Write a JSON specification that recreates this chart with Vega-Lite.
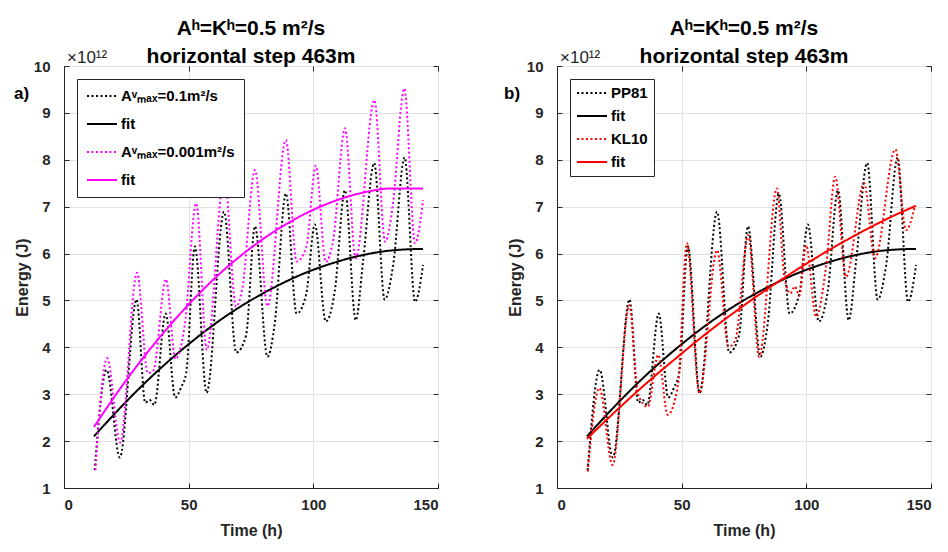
{
  "$schema": "https://vega.github.io/schema/vega-lite/v6.json",
  "padding": {"left": 13, "top": 17, "right": 5, "bottom": 5},
  "spacing": 64,
  "datasets": {
    "series": [
      {"s":"k","t":12.3,"E":1.38},{"s":"k","t":17.1,"E":3.52},{"s":"k","t":22.4,"E":1.65},{"s":"k","t":29.1,"E":5.02},{"s":"k","t":32.6,"E":2.82},{"s":"k","t":34.3,"E":2.88},{"s":"k","t":36.2,"E":2.77},{"s":"k","t":40.8,"E":4.72},{"s":"k","t":44.6,"E":2.93},{"s":"k","t":47,"E":3.15},{"s":"k","t":49,"E":3.45},{"s":"k","t":52.5,"E":6.15},{"s":"k","t":57.2,"E":3.03},{"s":"k","t":64.2,"E":6.89},{"s":"k","t":69.1,"E":3.89},{"s":"k","t":73,"E":4.25},{"s":"k","t":76.6,"E":6.58},{"s":"k","t":81.6,"E":3.8},{"s":"k","t":84.5,"E":4.5},{"s":"k","t":89,"E":7.28},{"s":"k","t":93.3,"E":4.72},{"s":"k","t":97.2,"E":5.15},{"s":"k","t":100.6,"E":6.62},{"s":"k","t":105,"E":4.55},{"s":"k","t":108.6,"E":5.2},{"s":"k","t":112.7,"E":7.35},{"s":"k","t":117,"E":4.58},{"s":"k","t":120,"E":5.86},{"s":"k","t":124.4,"E":7.93},{"s":"k","t":128.6,"E":5.02},{"s":"k","t":132,"E":5.75},{"s":"k","t":136.6,"E":8.05},{"s":"k","t":140.8,"E":4.97},{"s":"k","t":144,"E":5.76},
      {"s":"kf","t":12,"E":2.1},{"s":"kf","t":24,"E":2.79},{"s":"kf","t":36,"E":3.42},{"s":"kf","t":48,"E":3.98},{"s":"kf","t":60,"E":4.48},{"s":"kf","t":72,"E":4.91},{"s":"kf","t":84,"E":5.27},{"s":"kf","t":96,"E":5.57},{"s":"kf","t":108,"E":5.8},{"s":"kf","t":120,"E":5.97},{"s":"kf","t":132,"E":6.07},{"s":"kf","t":144,"E":6.1},
      {"s":"m","t":12.6,"E":1.38},{"s":"m","t":17.3,"E":3.77},{"s":"m","t":22.5,"E":1.97},{"s":"m","t":29.3,"E":5.59},{"s":"m","t":33.6,"E":3.45},{"s":"m","t":35.8,"E":3.5},{"s":"m","t":40.9,"E":5.45},{"s":"m","t":44.7,"E":3.75},{"s":"m","t":48.5,"E":4.5},{"s":"m","t":53,"E":7.07},{"s":"m","t":57.3,"E":3.95},{"s":"m","t":64.3,"E":7.65},{"s":"m","t":69,"E":4.87},{"s":"m","t":71.5,"E":5.25},{"s":"m","t":76.6,"E":7.78},{"s":"m","t":81.6,"E":4.88},{"s":"m","t":89,"E":8.42},{"s":"m","t":93.3,"E":5.83},{"s":"m","t":97.2,"E":6.15},{"s":"m","t":101,"E":7.87},{"s":"m","t":105,"E":5.82},{"s":"m","t":108,"E":6.3},{"s":"m","t":112.7,"E":8.67},{"s":"m","t":117,"E":5.9},{"s":"m","t":124.5,"E":9.27},{"s":"m","t":128.8,"E":6.25},{"s":"m","t":131.8,"E":7.0},{"s":"m","t":136.5,"E":9.52},{"s":"m","t":140.8,"E":6.22},{"s":"m","t":144,"E":7.14},
      {"s":"mf","t":12,"E":2.3},{"s":"mf","t":24,"E":3.23},{"s":"mf","t":36,"E":4.06},{"s":"mf","t":48,"E":4.8},{"s":"mf","t":60,"E":5.45},{"s":"mf","t":72,"E":6.0},{"s":"mf","t":84,"E":6.46},{"s":"mf","t":96,"E":6.83},{"s":"mf","t":108,"E":7.11},{"s":"mf","t":120,"E":7.3},{"s":"mf","t":132,"E":7.39},{"s":"mf","t":144,"E":7.39},
      {"s":"r","t":12.3,"E":1.35},{"s":"r","t":17,"E":3.13},{"s":"r","t":22.3,"E":1.49},{"s":"r","t":29,"E":4.9},{"s":"r","t":32.5,"E":3.0},{"s":"r","t":36.4,"E":2.73},{"s":"r","t":40.6,"E":3.84},{"s":"r","t":44.4,"E":2.56},{"s":"r","t":48.5,"E":3.2},{"s":"r","t":52.1,"E":6.22},{"s":"r","t":57.1,"E":3.02},{"s":"r","t":64.2,"E":6.07},{"s":"r","t":68.8,"E":4.01},{"s":"r","t":71.5,"E":4.15},{"s":"r","t":76.7,"E":6.39},{"s":"r","t":81.1,"E":3.8},{"s":"r","t":88.2,"E":7.39},{"s":"r","t":91.2,"E":5.5},{"s":"r","t":93.6,"E":5.15},{"s":"r","t":95.4,"E":5.3},{"s":"r","t":97.2,"E":5.1},{"s":"r","t":99.9,"E":6.18},{"s":"r","t":103.9,"E":4.65},{"s":"r","t":107.9,"E":5.72},{"s":"r","t":111.6,"E":7.64},{"s":"r","t":115.9,"E":5.5},{"s":"r","t":123.2,"E":7.5},{"s":"r","t":127.5,"E":5.9},{"s":"r","t":135.7,"E":8.22},{"s":"r","t":140,"E":6.5},{"s":"r","t":143.5,"E":7.01},
      {"s":"rf","t":12,"E":2.05},{"s":"rf","t":24,"E":2.66},{"s":"rf","t":36,"E":3.24},{"s":"rf","t":48,"E":3.78},{"s":"rf","t":60,"E":4.3},{"s":"rf","t":72,"E":4.78},{"s":"rf","t":84,"E":5.23},{"s":"rf","t":96,"E":5.65},{"s":"rf","t":108,"E":6.04},{"s":"rf","t":120,"E":6.4},{"s":"rf","t":132,"E":6.73},{"s":"rf","t":144,"E":7.02}
    ]
  },
  "config": {
    "font": "Liberation Sans",
    "view": {"stroke": "#262626", "strokeWidth": 1},
    "axis": {
      "labelFont": "Liberation Sans", "labelFontSize": 15, "labelFontWeight": "bold", "labelColor": "#262626",
      "titleFont": "Liberation Sans", "titleFontSize": 16, "titleFontWeight": "bold", "titleColor": "#262626",
      "gridColor": "#e2e2e2", "domainColor": "#262626", "tickColor": "#262626", "tickSize": -5
    },
    "axisX": {"labelPadding": 14, "titlePadding": 10},
    "axisY": {"labelPadding": 19, "titlePadding": 3},
    "title": {"font": "Liberation Sans", "fontSize": 21, "fontWeight": "bold", "color": "#000000", "lineHeight": 28, "offset": -18},
    "legend": {
      "orient": "none", "legendX": 13, "legendY": 13, "symbolType": "stroke", "symbolSize": 900, "symbolStrokeWidth": 2,
      "labelFont": "Liberation Sans", "labelFontSize": 15, "labelFontWeight": "bold", "labelColor": "#000000", "labelOffset": 3,
      "strokeColor": "#262626", "fillColor": "#ffffff", "padding": 6, "cornerRadius": 0, "clipHeight": 16
    }
  },
  "hconcat": [
    {
      "width": 374, "height": 422,
      "title": {"text": ["Aʰ=Kʰ=0.5 m²/s", "horizontal step 463m"]},
      "encoding": {
        "x": {"field": "t", "type": "quantitative", "scale": {"domain": [0, 150]}, "axis": {"values": [0, 50, 100, 150], "title": "Time (h)"}},
        "y": {"field": "E", "type": "quantitative", "scale": {"domain": [1, 10]}, "axis": {"values": [1,2,3,4,5,6,7,8,9,10], "title": "Energy (J)"}}
      },
      "layer": [
        {
          "data": {"name": "series"},
          "transform": [{"filter": "datum.s == 'k' || datum.s == 'kf' || datum.s == 'm' || datum.s == 'mf'"}],
          "mark": {"type": "line", "interpolate": "monotone", "strokeWidth": 2},
          "encoding": {
            "color": {"field": "s", "type": "nominal", "scale": {"domain": ["k", "kf", "m", "mf"], "range": ["#000000", "#000000", "#ff00ff", "#ff00ff"]},
              "legend": {"title": null, "padding": 9, "rowPadding": 12, "labelExpr": "datum.label == 'k' ? 'Aᵛₘₐₓ=0.1m²/s' : datum.label == 'm' ? 'Aᵛₘₐₓ=0.001m²/s' : 'fit'"}},
            "strokeDash": {"field": "s", "type": "nominal", "scale": {"domain": ["k", "kf", "m", "mf"], "range": [[2, 2.5], [1, 0], [2, 2.5], [1, 0]]},
              "legend": {"title": null, "padding": 9, "rowPadding": 12, "labelExpr": "datum.label == 'k' ? 'Aᵛₘₐₓ=0.1m²/s' : datum.label == 'm' ? 'Aᵛₘₐₓ=0.001m²/s' : 'fit'"}}
          }
        },
        {
          "data": {"values": [{"t": 0, "E": 10, "txt": "×10¹²"}]},
          "mark": {"type": "text", "align": "left", "baseline": "bottom", "dx": 3, "dy": 1, "fontSize": 17, "color": "#262626"},
          "encoding": {
            "x": {"field": "t", "type": "quantitative", "scale": {"domain": [0, 150]}, "axis": {"orient": "top", "values": [0, 50, 100, 150], "labels": false, "title": null, "grid": false, "domain": false}},
            "y": {"field": "E", "type": "quantitative", "scale": {"domain": [1, 10]}, "axis": {"orient": "right", "values": [1,2,3,4,5,6,7,8,9,10], "labels": false, "title": null, "grid": false, "domain": false}},
            "text": {"field": "txt"}
          }
        },
        {
          "data": {"values": [{"t": 0, "E": 9.4, "txt": "a)"}]},
          "mark": {"type": "text", "align": "left", "baseline": "middle", "dx": -50, "fontSize": 17, "fontWeight": "bold", "color": "#000000"},
          "encoding": {
            "x": {"field": "t", "type": "quantitative", "axis": null},
            "y": {"field": "E", "type": "quantitative", "axis": null},
            "text": {"field": "txt"}
          }
        }
      ],
      "resolve": {"axis": {"x": "independent", "y": "independent"}}
    },
    {
      "width": 374, "height": 422,
      "title": {"text": ["Aʰ=Kʰ=0.5 m²/s", "horizontal step 463m"]},
      "encoding": {
        "x": {"field": "t", "type": "quantitative", "scale": {"domain": [0, 150]}, "axis": {"values": [0, 50, 100, 150], "title": "Time (h)"}},
        "y": {"field": "E", "type": "quantitative", "scale": {"domain": [1, 10]}, "axis": {"values": [1,2,3,4,5,6,7,8,9,10], "title": "Energy (J)"}}
      },
      "layer": [
        {
          "data": {"name": "series"},
          "transform": [{"filter": "datum.s == 'k' || datum.s == 'kf' || datum.s == 'r' || datum.s == 'rf'"}],
          "mark": {"type": "line", "interpolate": "monotone", "strokeWidth": 2},
          "encoding": {
            "color": {"field": "s", "type": "nominal", "scale": {"domain": ["k", "kf", "r", "rf"], "range": ["#000000", "#000000", "#ff0000", "#ff0000"]},
              "legend": {"title": null, "rowPadding": 7, "labelExpr": "datum.label == 'k' ? 'PP81' : datum.label == 'r' ? 'KL10' : 'fit'"}},
            "strokeDash": {"field": "s", "type": "nominal", "scale": {"domain": ["k", "kf", "r", "rf"], "range": [[2, 2.5], [1, 0], [2, 2.5], [1, 0]]},
              "legend": {"title": null, "rowPadding": 7, "labelExpr": "datum.label == 'k' ? 'PP81' : datum.label == 'r' ? 'KL10' : 'fit'"}}
          }
        },
        {
          "data": {"values": [{"t": 0, "E": 10, "txt": "×10¹²"}]},
          "mark": {"type": "text", "align": "left", "baseline": "bottom", "dx": 3, "dy": 1, "fontSize": 17, "color": "#262626"},
          "encoding": {
            "x": {"field": "t", "type": "quantitative", "scale": {"domain": [0, 150]}, "axis": {"orient": "top", "values": [0, 50, 100, 150], "labels": false, "title": null, "grid": false, "domain": false}},
            "y": {"field": "E", "type": "quantitative", "scale": {"domain": [1, 10]}, "axis": {"orient": "right", "values": [1,2,3,4,5,6,7,8,9,10], "labels": false, "title": null, "grid": false, "domain": false}},
            "text": {"field": "txt"}
          }
        },
        {
          "data": {"values": [{"t": 0, "E": 9.4, "txt": "b)"}]},
          "mark": {"type": "text", "align": "left", "baseline": "middle", "dx": -53, "fontSize": 17, "fontWeight": "bold", "color": "#000000"},
          "encoding": {
            "x": {"field": "t", "type": "quantitative", "axis": null},
            "y": {"field": "E", "type": "quantitative", "axis": null},
            "text": {"field": "txt"}
          }
        }
      ],
      "resolve": {"axis": {"x": "independent", "y": "independent"}}
    }
  ],
  "resolve": {"scale": {"color": "independent", "strokeDash": "independent"}}
}
